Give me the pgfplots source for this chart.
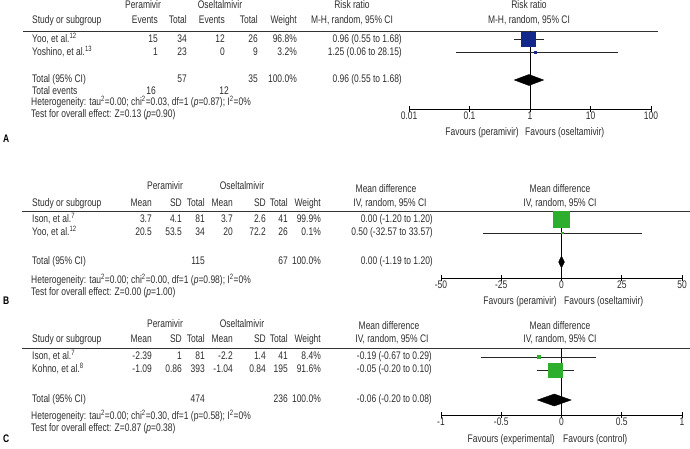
\documentclass[border=0pt]{standalone}
\usepackage{pgfplots}
\pgfplotsset{compat=1.18}
\usepackage{fontspec}
\setmainfont[FakeStretch=0.77]{Liberation Sans}
\definecolor{txt}{RGB}{45,45,45}
\definecolor{sqblue}{RGB}{20,40,140}
\definecolor{sqgreen}{RGB}{45,175,45}
\newcommand{\tR}[3]{\node[anchor=mid east] at (#1,#2) {#3};}
\newcommand{\tL}[3]{\node[anchor=mid west] at (#1,#2) {#3};}
\newcommand{\tC}[3]{\node[anchor=mid] at (#1,#2) {#3};}
\newcommand{\sq}{\textsuperscript{2}}
\newcommand{\fs}{\fontsize{11}{13}\selectfont}
\pgfplotsset{forest/.style={scale only axis, anchor=south west, axis x line*=bottom, axis y line=none, ytick=\empty,
  tick align=center, major tick length=6pt, clip=false,
  axis line style={black, line width=0.6pt}, every tick/.style={black, line width=0.6pt},
  tick label style={font=\fs, text=txt},
  /pgf/number format/assume math mode=true}}
\begin{document}
\begin{tikzpicture}[font=\fs, every node/.style={inner sep=0pt, text=txt}]
\path[use as bounding box] (0pt,0pt) rectangle (690pt,-448pt);
\begin{scope}[x=1pt,y=-1pt]
% ---------- Panel A ----------
\tC{143}{6}{Peramivir}\tC{220}{6}{Oseltalmivir}\tC{352}{6}{Risk ratio}\tC{529}{6}{Risk ratio}
\tL{32}{21}{Study or subgroup}\tR{158}{21}{Events}\tR{187}{21}{Total}\tR{225}{21}{Events}\tR{258}{21}{Total}\tR{297}{21}{Weight}
\tC{352}{21}{M-H, random, 95\% CI}\tC{529}{21}{M-H, random, 95\% CI}
\draw[line width=0.8pt, black!80] (23,31.5) -- (658,31.5);
\tL{32}{40}{Yoo, et al.\textsuperscript{12}}\tR{158}{40}{15}\tR{187}{40}{34}\tR{225}{40}{12}\tR{258}{40}{26}\tR{297}{40}{96.8\%}\tR{402}{40}{0.96 (0.55 to 1.68)}
\tL{32}{52.5}{Yoshino, et al.\textsuperscript{13}}\tR{158}{52.5}{1}\tR{187}{52.5}{23}\tR{225}{52.5}{0}\tR{258}{52.5}{9}\tR{297}{52.5}{3.2\%}\tR{402}{52.5}{1.25 (0.06 to 28.15)}
\tL{32}{80}{Total (95\% CI)}\tR{187}{80}{57}\tR{258}{80}{35}\tR{297}{80}{100.0\%}\tR{402}{80}{0.96 (0.55 to 1.68)}
\tL{32}{91.5}{Total events}\tR{156}{91.5}{16}\tR{229}{91.5}{12}
\tL{31}{103}{Heterogeneity: tau\sq=0.00; chi\sq=0.03, df=1 (\textit{p}=0.87); I\sq=0\%}
\tL{31}{115}{Test for overall effect: Z=0.13 (\textit{p}=0.90)}
\tR{519}{133}{Favours (peramivir)}\tL{525}{133}{Favours (oseltamivir)}
\node[anchor=mid west, text=black, font=\fs\bfseries] at (3,140) {A};
% ---------- Panel B ----------
\tC{165}{187}{Peramivir}\tC{242}{187}{Oseltalmivir}\tC{386}{190}{Mean difference}\tC{560}{190}{Mean difference}
\tL{32}{204}{Study or subgroup}\tR{152}{204}{Mean}\tR{182}{204}{SD}\tR{205}{204}{Total}\tR{233}{204}{Mean}\tR{266}{204}{SD}\tR{288}{204}{Total}\tR{321}{204}{Weight}
\tC{390}{204}{IV, random, 95\% CI}\tC{560}{204}{IV, random, 95\% CI}
\draw[line width=0.8pt, black!80] (22,211) -- (690,211);
\tL{32}{220}{Ison, et al.\textsuperscript{7}}\tR{152}{220}{3.7}\tR{182}{220}{4.1}\tR{205}{220}{81}\tR{233}{220}{3.7}\tR{266}{220}{2.6}\tR{288}{220}{41}\tR{321}{220}{99.9\%}\tR{433}{220}{0.00 (-1.20 to 1.20)}
\tL{32}{233}{Yoo, et al.\textsuperscript{12}}\tR{152}{233}{20.5}\tR{182}{233}{53.5}\tR{205}{233}{34}\tR{233}{233}{20}\tR{266}{233}{72.2}\tR{288}{233}{26}\tR{321}{233}{0.1\%}\tR{433}{233}{0.50 (-32.57 to 33.57)}
\tL{32}{262}{Total (95\% CI)}\tR{205}{262}{115}\tR{288}{262}{67}\tR{321}{262}{100.0\%}\tR{433}{262}{0.00 (-1.19 to 1.20)}
\tL{31}{281}{Heterogeneity: tau\sq=0.00; chi\sq=0.00, df=1 (\textit{p}=0.98); I\sq=0\%}
\tL{31}{293}{Test for overall effect: Z=0.00 (\textit{p}=1.00)}
\tR{557}{302}{Favours (peramivir)}\tL{564}{302}{Favours (oseltamivir)}
\node[anchor=mid west, text=black, font=\fs\bfseries] at (3,302) {B};
% ---------- Panel C ----------
\tC{165}{325}{Peramivir}\tC{242}{325}{Oseltalmivir}\tC{389}{327}{Mean difference}\tC{560}{327}{Mean difference}
\tL{32}{340}{Study or subgroup}\tR{152}{340}{Mean}\tR{182}{340}{SD}\tR{205}{340}{Total}\tR{233}{340}{Mean}\tR{266}{340}{SD}\tR{288}{340}{Total}\tR{321}{340}{Weight}
\tC{392}{340}{IV, random, 95\% CI}\tC{560}{340}{IV, random, 95\% CI}
\draw[line width=0.8pt, black!80] (22,348) -- (690,348);
\tL{32}{357}{Ison, et al.\textsuperscript{7}}\tR{152}{357}{-2.39}\tR{182}{357}{1}\tR{205}{357}{81}\tR{233}{357}{-2.2}\tR{266}{357}{1.4}\tR{288}{357}{41}\tR{321}{357}{8.4\%}\tR{432}{357}{-0.19 (-0.67 to 0.29)}
\tL{32}{370}{Kohno, et al.\textsuperscript{8}}\tR{152}{370}{-1.09}\tR{182}{370}{0.86}\tR{205}{370}{393}\tR{233}{370}{-1.04}\tR{266}{370}{0.84}\tR{288}{370}{195}\tR{321}{370}{91.6\%}\tR{432}{370}{-0.05 (-0.20 to 0.10)}
\tL{32}{400}{Total (95\% CI)}\tR{205}{400}{474}\tR{288}{400}{236}\tR{321}{400}{100.0\%}\tR{432}{400}{-0.06 (-0.20 to 0.08)}
\tL{31}{417}{Heterogeneity: tau\sq=0.00; chi\sq=0.30, df=1 (p=0.58); I\sq=0\%}
\tL{31}{429}{Test for overall effect: Z=0.87 (\textit{p}=0.38)}
\tR{555}{440}{Favours (experimental)}\tL{563}{440}{Favours (control)}
\node[anchor=mid west, text=black, font=\fs\bfseries] at (3,440) {C};
\end{scope}
% ---------- Forest A ----------
\begin{axis}[forest, at={(409pt,-109pt)}, width=242pt, height=77.5pt, xmode=log, xmin=0.01, xmax=100, ymin=-109, ymax=-31.5,
  xtick={0.01,0.1,1,10,100}, xticklabels={0.01,0.1,1,10,100}, xminorticks=false]
\addplot[black, line width=0.6pt] coordinates {(1,-31.5) (1,-109)};
\addplot[black!85, line width=0.6pt] coordinates {(0.55,-39) (1.68,-39)};
\addplot[black!85, line width=0.6pt] coordinates {(0.06,-52.5) (28.15,-52.5)};
\addplot[only marks, mark=square*, mark size=7pt, color=sqblue, mark options={fill=sqblue, draw=sqblue, line width=0pt}] coordinates {(0.96,-39)};
\addplot[only marks, mark=square*, mark size=1.1pt, color=sqblue, mark options={fill=sqblue, draw=sqblue, line width=0pt}] coordinates {(1.25,-52.5)};
\addplot[fill=black, draw=black] coordinates {(0.55,-80) (0.96,-74.5) (1.68,-80) (0.96,-85.5)} -- cycle;
\end{axis}
% ---------- Forest B ----------
\begin{axis}[forest, at={(441pt,-278pt)}, width=241pt, height=67pt, xmin=-50, xmax=50, ymin=-278, ymax=-211,
  xtick={-50,-25,0,25,50}, xticklabels={-50,-25,0,25,50}]
\addplot[black, line width=0.6pt] coordinates {(0,-211) (0,-278)};
\addplot[black!85, line width=0.6pt] coordinates {(-1.20,-219.5) (1.20,-219.5)};
\addplot[black!85, line width=0.6pt] coordinates {(-32.57,-233) (33.57,-233)};
\addplot[only marks, mark=square*, mark size=8pt, color=sqgreen, mark options={fill=sqgreen, draw=sqgreen, line width=0pt}] coordinates {(0,-219.5)};
\addplot[only marks, mark=square*, mark size=0.9pt, color=sqgreen, mark options={fill=sqgreen, draw=sqgreen, line width=0pt}] coordinates {(0.5,-233)};
\addplot[fill=black, draw=black] coordinates {(-1.19,-262) (0,-256) (1.20,-262) (0,-268)} -- cycle;
\end{axis}
% ---------- Forest C ----------
\begin{axis}[forest, at={(441pt,-415pt)}, width=241pt, height=67pt, xmin=-1, xmax=1, ymin=-415, ymax=-348,
  xtick={-1,-0.5,0,0.5,1}, xticklabels={-1,-0.5,0,0.5,1}]
\addplot[black, line width=0.6pt] coordinates {(0,-348) (0,-415)};
\addplot[black!85, line width=0.6pt] coordinates {(-0.67,-357) (0.29,-357)};
\addplot[black!85, line width=0.6pt] coordinates {(-0.20,-370.5) (0.10,-370.5)};
\addplot[only marks, mark=square*, mark size=1.5pt, color=sqgreen, mark options={fill=sqgreen, draw=sqgreen, line width=0pt}] coordinates {(-0.19,-357)};
\addplot[only marks, mark=square*, mark size=6.7pt, color=sqgreen, mark options={fill=sqgreen, draw=sqgreen, line width=0pt}] coordinates {(-0.05,-370.5)};
\addplot[fill=black, draw=black] coordinates {(-0.20,-400) (-0.06,-394) (0.08,-400) (-0.06,-406)} -- cycle;
\end{axis}
\end{tikzpicture}
\end{document}
